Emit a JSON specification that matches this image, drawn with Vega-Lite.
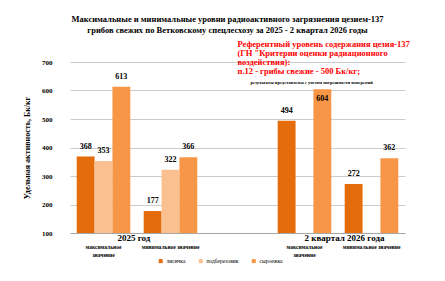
{
  "$schema": "https://vega.github.io/schema/vega-lite/v6.json",
  "autosize": "none",
  "width": 335,
  "height": 171,
  "padding": {"left": 70, "top": 62, "right": 40, "bottom": 48},
  "background": "#ffffff",
  "config": {
    "view": {"stroke": null},
    "font": "Liberation Serif"
  },
  "title": {
    "text": ["Максимальные и минимальные уровни радиоактивного загрязнения цезием-137", "грибов свежих  по Ветковскому спецлесхозу за 2025 - 2 квартал  2026 годы"],
    "font": "Liberation Serif",
    "fontSize": 8.5,
    "fontWeight": "bold",
    "color": "#000000",
    "anchor": "middle",
    "dx": -10,
    "offset": 6,
    "lineHeight": 11
  },
  "datasets": {
    "bars": [
      {"cat": "2025max", "species": "лисичка", "value": 368},
      {"cat": "2025max", "species": "подберезовик", "value": 353},
      {"cat": "2025max", "species": "сыроежка", "value": 613},
      {"cat": "2025min", "species": "лисичка", "value": 177},
      {"cat": "2025min", "species": "подберезовик", "value": 322},
      {"cat": "2025min", "species": "сыроежка", "value": 366},
      {"cat": "2026max", "species": "лисичка", "value": 494},
      {"cat": "2026max", "species": "сыроежка", "value": 604},
      {"cat": "2026min", "species": "лисичка", "value": 272},
      {"cat": "2026min", "species": "сыроежка", "value": 362}
    ]
  },
  "encoding": {
    "x": {
      "field": "cat", "type": "nominal",
      "scale": {"domain": ["2025max", "2025min", "gap", "2026max", "2026min"], "paddingInner": 0.2, "paddingOuter": 0.1},
      "axis": {
        "title": null,
        "labelAngle": 0,
        "labelExpr": "indexof(['2025max','2026max'], datum.value) >= 0 ? ['максимальное', 'значение'] : (indexof(['2025min','2026min'], datum.value) >= 0 ? 'минимальное значение' : '')",
        "labelFont": "Liberation Serif",
        "labelFontSize": 5.5,
        "labelFontWeight": "bold",
        "labelColor": "#000000",
        "labelPadding": 11,
        "labelLineHeight": 8,
        "labelBaseline": "top",
        "labelOverlap": false,
        "ticks": false,
        "domainColor": "#a6a6a6",
        "grid": false
      }
    },
    "y": {
      "field": "value", "type": "quantitative",
      "scale": {"domain": [100, 700], "nice": false, "zero": false},
      "axis": {
        "title": "Удельная активность, Бк/кг",
        "titleFont": "Liberation Serif",
        "titleFontSize": 8,
        "titleFontWeight": "bold",
        "titleColor": "#000000",
        "titlePadding": 10,
        "values": [100, 200, 300, 400, 500, 600, 700],
        "labelOverlap": false,
        "labelFont": "Liberation Serif",
        "labelFontSize": 7,
        "labelFontWeight": "bold",
        "labelColor": "#000000",
        "labelPadding": 18,
        "ticks": false,
        "domain": false,
        "grid": true,
        "gridColor": "#bfbfbf",
        "gridWidth": 0.8
      }
    }
  },
  "layer": [
    {
      "data": {"name": "bars"},
      "mark": {"type": "bar", "stroke": null},
      "encoding": {
        "xOffset": {"field": "species", "type": "nominal", "scale": {"domain": ["лисичка", "подберезовик", "сыроежка"], "paddingInner": 0}},
        "y2": {"datum": 100},
        "color": {
          "field": "species", "type": "nominal",
          "scale": {"domain": ["лисичка", "подберезовик", "сыроежка"], "range": ["#e46c0a", "#fac090", "#f79646"]},
          "legend": {
            "title": null,
            "orient": "none",
            "direction": "horizontal",
            "legendX": 88,
            "legendY": 196,
            "symbolType": "square",
            "symbolSize": 16,
            "symbolStrokeWidth": 0,
            "labelFont": "Liberation Serif",
            "labelFontSize": 5.5,
            "labelColor": "#000000",
            "labelOffset": 3,
            "columnPadding": 12
          }
        }
      }
    },
    {
      "data": {"name": "bars"},
      "transform": [{"filter": "!(datum.cat == '2026max' && datum.species == 'сыроежка')"}],
      "mark": {"type": "text", "baseline": "bottom", "dy": -6, "font": "Liberation Serif", "fontSize": 8, "fontWeight": "bold", "color": "#000000"},
      "encoding": {
        "xOffset": {"field": "species", "type": "nominal"},
        "text": {"field": "value", "type": "quantitative"}
      }
    },
    {
      "data": {"name": "bars"},
      "transform": [{"filter": "datum.cat == '2026max' && datum.species == 'сыроежка'"}],
      "mark": {"type": "text", "baseline": "top", "dy": 6, "font": "Liberation Serif", "fontSize": 8, "fontWeight": "bold", "color": "#000000"},
      "encoding": {
        "xOffset": {"field": "species", "type": "nominal"},
        "text": {"field": "value", "type": "quantitative"}
      }
    },
    {
      "data": {"values": [{"cat": "2025max", "label": "2025 год", "value": 100}]},
      "mark": {"type": "text", "align": "left", "baseline": "middle", "dx": 14, "dy": 5, "font": "Liberation Serif", "fontSize": 9, "fontWeight": "bold", "color": "#000000", "clip": false},
      "encoding": {
        "text": {"field": "label"}
      }
    },
    {
      "data": {"values": [{"cat": "2026max", "label": "2 квартал 2026 года", "value": 100}]},
      "mark": {"type": "text", "align": "left", "baseline": "middle", "dx": 0, "dy": 5, "font": "Liberation Serif", "fontSize": 9, "fontWeight": "bold", "color": "#000000", "clip": false},
      "encoding": {
        "text": {"field": "label"}
      }
    },
    {
      "data": {"values": [{"cat": "gap", "value": 777, "note": "Референтный уровень содержания цезия-137|(ГН \"Критерии оценки радиационного|воздействия):|п.12 - грибы свежие - 500 Бк/кг;"}]},
      "mark": {"type": "text", "align": "left", "baseline": "top", "lineBreak": "|", "lineHeight": 9, "font": "Liberation Serif", "fontSize": 8.5, "fontWeight": "bold", "color": "#ff0000", "clip": false},
      "encoding": {
        "text": {"field": "note"}
      }
    },
    {
      "data": {"values": [{"cat": "gap", "value": 626, "note": "результаты представлены  с учетом погрешности измерений"}]},
      "mark": {"type": "text", "align": "left", "baseline": "middle", "dx": 13, "font": "Liberation Serif", "fontSize": 4.5, "fontWeight": "bold", "color": "#000000", "clip": false},
      "encoding": {
        "text": {"field": "note"}
      }
    }
  ]
}
